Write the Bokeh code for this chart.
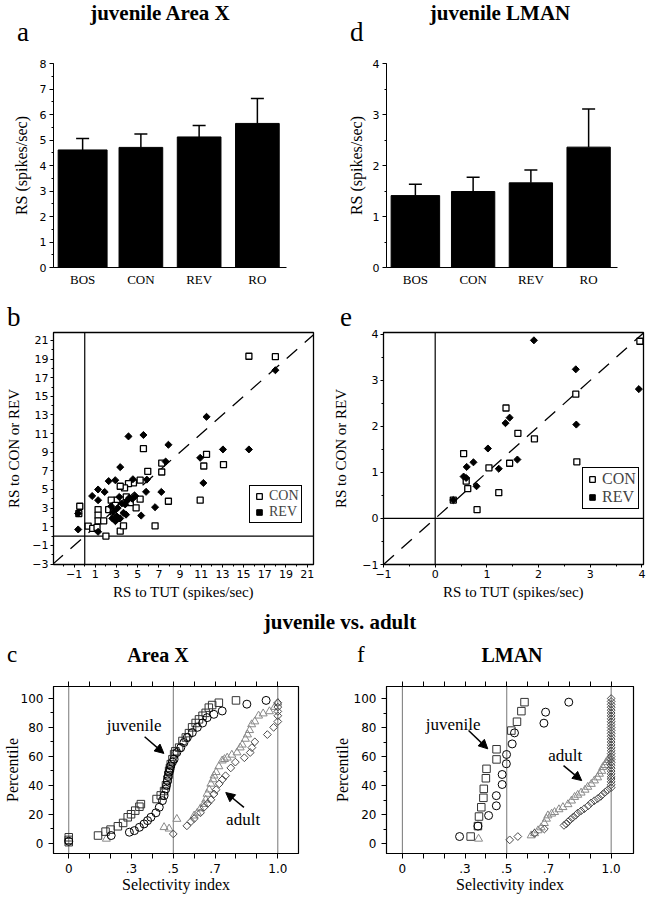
import math
from bokeh.plotting import figure
from bokeh.models import (Range1d, FactorRange, FixedTicker, SingleIntervalTicker, LinearAxis, Span, Slope,
                          Legend, LegendItem, Label, Arrow, NormalHead, Div, CustomJSTickFormatter,
                          ColumnDataSource)
from bokeh.layouts import column, row
from bokeh.embed import file_html
from bokeh.resources import INLINE

SERIF = "Liberation Serif"
SANS = "DejaVu Sans"

# ---------------- data ----------------
stimuli = ["BOS", "CON", "REV", "RO"]
areax_mean = [4.61, 4.71, 5.12, 5.65]
areax_upper = [5.06, 5.24, 5.57, 6.63]
lman_mean = [1.41, 1.49, 1.66, 2.36]
lman_upper = [1.63, 1.77, 1.91, 3.11]
bar_widths = [0.84, 0.75, 0.75, 0.75]

b_ticks = [-3, -1, 1, 3, 5, 7, 9, 11, 13, 15, 17, 19, 21]
b_minor = [-2, 0, 2, 4, 6, 8, 10, 12, 14, 16, 18, 20]
b_con_x = [15.5, 18.0, 5.54, 7.27, 7.27, 5.95, 11.5, 11.24, 13.1, 10.9, 7.9, 6.64, 5.23, 4.6, 4.13, 3.76,
           3.35, 5.23, 4.85, 3.92, 3.04, 2.5, 2.26, 1.26, 1.26, 1.26, 1.79, -0.47, -0.56, 0.32, 0.75, 1.16,
           2.0, 3.35, 3.66, 2.7, 3.1, 4.3, 2.9]
b_con_y = [19.3, 19.25, 9.38, 7.84, 6.88, 6.95, 8.77, 7.52, 7.67, 3.85, 3.74, 1.1, 6.0, 5.7, 5.63, 5.17,
           5.35, 3.96, 3.03, 4.2, 3.85, 3.85, 2.85, 2.85, 2.24, 1.64, 1.64, 3.2, 2.42, 1.07, 0.82, 0.93,
           0.0, 0.53, 1.1, 2.6, 1.9, 3.6, 3.3]
b_rev_x = [4.13, 5.54, 7.9, 7.64, 11.5, 10.9, 11.2, 13.05, 15.5, 18.0, 3.35, 2.26, 2.88, 4.55, 5.86, 1.26,
           1.88, 0.7, 1.26, 3.26, 5.79, 7.23, 6.64, 5.33, -0.62, -0.62, 1.26, 2.5, 2.7, 3.04, 3.35, 3.66,
           3.82, 4.2, 4.77, 3.5, 2.9, 3.1, 4.0, 4.5, 2.6, 3.9]
b_rev_y = [10.7, 10.85, 9.8, 8.0, 12.8, 8.4, 5.7, 9.3, 9.3, 17.8, 7.4, 5.9, 6.0, 6.1, 6.06, 5.0,
           4.74, 4.3, 3.85, 4.2, 4.75, 4.74, 3.1, 2.2, 2.42, 0.71, 0.46, 3.2, 2.6, 2.1, 1.9, 2.5,
           3.4, 4.1, 4.3, 3.5, 1.6, 3.0, 3.8, 4.0, 1.9, 2.3]

e_ticks = [-1, 0, 1, 2, 3, 4]
e_minor = [-0.5, 0.5, 1.5, 2.5, 3.5]
e_con_x = [3.96, 2.72, 2.74, 1.37, 1.6, 1.92, 0.55, 1.04, 1.44, 0.6, 0.63, 1.23, 0.81, 0.35]
e_con_y = [3.85, 2.7, 1.23, 2.4, 1.85, 1.73, 1.41, 1.1, 1.2, 0.81, 0.65, 0.56, 0.19, 0.4]
e_rev_x = [1.91, 2.72, 3.94, 2.73, 1.36, 1.44, 1.02, 0.74, 0.61, 0.55, 0.6, 0.8, 1.23, 1.59, 0.35]
e_rev_y = [3.87, 3.24, 2.81, 2.04, 2.07, 2.19, 1.52, 1.22, 1.12, 0.91, 0.88, 0.7, 1.08, 1.28, 0.4]

sel_major = [0, 0.3, 0.5, 0.7, 1.0]
sel_minor = [0.1, 0.2, 0.4, 0.6, 0.8, 0.9]
pct_major = [0, 20, 40, 60, 80, 100]
pct_minor = [10, 30, 50, 70, 90]
ref_lines = [0, 0.5, 1.0]

# Area X cumulative distributions
cx_sq_x = [0, 0, 0, 0.14, 0.176, 0.2, 0.235, 0.26, 0.282, 0.298, 0.318, 0.338, 0.345, 0.42, 0.44, 0.456,
           0.465, 0.472, 0.476, 0.48, 0.484, 0.488, 0.496, 0.504, 0.51, 0.528, 0.544, 0.56, 0.575, 0.59,
           0.607, 0.623, 0.64, 0.655, 0.67, 0.686, 0.718, 0.8]
cx_sq_y = [0.7, 2.3, 4.1, 5.3, 8, 9.4, 11.7, 14, 17.9, 20, 22.5, 25.2, 27, 30.5, 33, 36,
           40, 44, 47, 50, 52, 54.6, 58, 61.5, 63.5, 66, 70.6, 73, 76, 80,
           83, 85.5, 88, 90, 93.6, 95.4, 97, 98.6]
cx_ci_x = [0, 0.203, 0.29, 0.314, 0.338, 0.36, 0.377, 0.393, 0.417, 0.433, 0.448, 0.456, 0.464, 0.468,
           0.472, 0.476, 0.48, 0.484, 0.488, 0.496, 0.504, 0.517, 0.536, 0.551, 0.567, 0.591, 0.615, 0.64,
           0.662, 0.694, 0.734, 0.852, 0.944]
cx_ci_y = [1.4, 5.3, 7.6, 8.7, 11, 13.3, 15.6, 17.9, 21, 24.8, 29.4, 32.8, 37.4, 40,
           43, 46, 49, 51, 53.4, 56, 58, 62.6, 66, 69.5, 73, 76.4, 80, 83,
           86.7, 89, 91.3, 96, 98.6]
cx_tr_x = [0.18, 0.456, 0.48, 0.517, 0.6, 0.615, 0.63, 0.647, 0.655, 0.662, 0.672, 0.68, 0.69, 0.695,
           0.705, 0.718, 0.734, 0.745, 0.758, 0.78, 0.805, 0.82, 0.83, 0.845, 0.855, 0.865, 0.875, 0.89,
           0.908, 0.93, 0.96, 0.985, 1.0]
cx_tr_y = [3, 11, 10, 16.7, 19, 21, 24, 27, 30, 34, 37, 41, 44, 46.6,
           49, 53, 57, 58, 59, 61, 62.6, 66, 68, 72, 75, 78, 82, 84,
           88, 89.5, 91, 94, 97]
cx_di_x = [0.5, 0.565, 0.585, 0.6, 0.63, 0.647, 0.665, 0.68, 0.695, 0.705, 0.72, 0.735, 0.75, 0.775,
           0.797, 0.84, 0.868, 0.876, 0.89, 0.95, 0.98, 1.0, 1.0, 1.0, 1.0, 1.0]
cx_di_y = [6.4, 12, 15, 17, 21, 24.8, 27.5, 30, 34, 37, 41, 44, 46.6, 52,
           56, 59, 62.6, 66, 70, 75, 80, 84, 88, 91, 94, 97]

# LMAN cumulative distributions
fl_sq_x = [0.327, 0.362, 0.367, 0.378, 0.388, 0.39, 0.4, 0.403, 0.451, 0.451, 0.522, 0.549, 0.57, 0.585]
fl_sq_y = [4.8, 12, 18.6, 25, 31.5, 37.7, 45, 51.5, 58, 65, 77.9, 84, 91.3, 97.5]
fl_ci_x = [0.274, 0.362, 0.413, 0.45, 0.45, 0.478, 0.478, 0.498, 0.499, 0.526, 0.537, 0.678, 0.686, 0.797]
fl_ci_y = [4.8, 12, 19.3, 26, 33, 40.7, 47.6, 55, 61.4, 68.7, 76.3, 83, 90.6, 97.5]
fl_tr_x = [0.365, 0.617, 0.633, 0.65, 0.665, 0.68, 0.69, 0.697, 0.715, 0.729, 0.75, 0.769, 0.793, 0.81,
           0.825, 0.84, 0.856, 0.875, 0.888, 0.905, 0.92, 0.935, 0.944, 0.955, 0.96, 0.97, 0.976, 0.985,
           0.992]
fl_tr_y = [3.2, 5.5, 7, 9, 11, 14, 17, 19.3, 20.5, 21.6, 23.5, 25, 27, 29.5,
           32, 33.5, 35, 37, 39, 41, 43.4, 45.5, 48, 50, 52.6, 54, 56, 57.5,
           59]
fl_di_x = [0.514, 0.553, 0.633, 0.68, 0.774, 0.785, 0.793, 0.805, 0.817, 0.83, 0.84, 0.856, 0.872, 0.89,
           0.904, 0.92, 0.936, 0.95, 0.96, 0.972, 0.984,
           1.0, 1.0, 1.0, 1.0, 1.0, 1.0, 1.0, 1.0, 1.0, 1.0, 1.0, 1.0, 1.0, 1.0, 1.0, 1.0,
           1.0, 1.0, 1.0, 1.0, 1.0, 1.0, 1.0, 1.0, 1.0, 1.0, 1.0, 1.0, 1.0, 1.0, 1.0, 1.0]
fl_di_y = [2.5, 4.8, 7, 10, 12.5, 13.5, 15, 16.5, 18, 19.5, 21, 22.5, 24, 26,
           28, 29.5, 31, 32.5, 34, 35.5, 37,
           38.5, 40.5, 42.5, 44.5, 46, 48, 50, 52, 54, 56, 58, 60, 62, 64, 66, 68,
           70, 72, 74, 76, 78, 80, 82, 84, 86, 88, 90, 92, 94, 96, 98, 100]


# ---------------- helpers ----------------
def base_fig(xr, yr, w, h, bl, br, bt, bb):
    p = figure(x_range=xr, y_range=yr, width=w, height=h, output_backend="svg",
               toolbar_location=None, min_border_left=bl, min_border_right=br,
               min_border_top=bt, min_border_bottom=bb)
    p.grid.visible = False
    p.background_fill_color = "white"
    p.border_fill_color = "white"
    return p


def style_axis(ax, tick_size="11px", label_size="15px"):
    ax.axis_line_color = "black"
    ax.axis_line_width = 1
    ax.major_tick_line_color = "black"
    ax.minor_tick_line_color = "black"
    ax.major_tick_in = 0
    ax.minor_tick_in = 0
    ax.major_tick_out = 4
    ax.minor_tick_out = 2
    ax.major_label_text_font = SANS
    ax.major_label_text_font_size = tick_size
    ax.major_label_text_color = "black"
    ax.axis_label_text_font = SERIF
    ax.axis_label_text_font_style = "normal"
    ax.axis_label_text_font_size = label_size
    ax.axis_label_text_color = "black"


def header(width, height, items):
    """A strip of serif texts placed by baseline (panel letters and headings)."""
    spans = []
    for (txt, x, base, size, bold, centered) in items:
        top = base - ((size - 1.107 * size) / 2 + 0.891 * size)
        if centered:
            pos = "left:%.1fpx;width:400px;text-align:center;" % (x - 200)
        else:
            pos = "left:%.1fpx;" % x
        spans.append(
            '<span style="position:absolute;%stop:%.1fpx;font-family:\'Liberation Serif\';'
            'font-size:%dpx;line-height:%dpx;font-weight:%s;color:black;white-space:nowrap;">%s</span>'
            % (pos, top, size, size, "bold" if bold else "normal", txt))
    html = ('<div style="position:relative;width:%dpx;height:%dpx;">' % (width, height)
            + "".join(spans) + "</div>")
    return Div(text=html, width=width, height=height, margin=0)


def bar_panel(means, uppers, ymax, w, h, bl, br, bt, bb, lab_standoff):
    p = base_fig(FactorRange(*stimuli), Range1d(0, ymax), w, h, bl, br, bt, bb)
    p.outline_line_color = None
    src = ColumnDataSource(dict(x=stimuli, top=means, up=uppers, w=bar_widths))
    p.vbar(x="x", top="top", width="w", source=src, fill_color="black", line_color="black")
    p.segment(x0="x", y0="top", x1="x", y1="up", source=src, line_color="black", line_width=1.5)
    p.scatter(x="x", y="up", source=src, marker="dash", size=13, line_color="black", line_width=1.5)
    style_axis(p.yaxis[0], label_size="16px")
    p.yaxis.ticker = SingleIntervalTicker(interval=1, num_minor_ticks=2)
    p.yaxis.axis_label = "RS (spikes/sec)"
    p.yaxis.axis_label_standoff = lab_standoff
    p.yaxis.major_label_standoff = 3
    style_axis(p.xaxis[0])
    p.xaxis.major_tick_line_color = None
    p.xaxis.major_tick_out = 0
    p.xaxis.major_label_text_font = SERIF
    p.xaxis.major_label_text_font_size = "13px"
    p.xaxis.major_label_standoff = 4
    return p


def scatter_panel(xr, yr, ticks, minor, cx, cy, rx, ry, w, h, bl, br, bt, bb,
                  leg_loc, leg_font, ylab_standoff, dash):
    p = base_fig(Range1d(*xr), Range1d(*yr), w, h, bl, br, bt, bb)
    p.outline_line_color = "black"
    p.outline_line_width = 1.3
    p.outline_line_alpha = 1
    for ax in (p.xaxis[0], p.yaxis[0]):
        style_axis(ax)
        ax.ticker = FixedTicker(ticks=ticks, minor_ticks=minor)
        ax.major_tick_out = 3
        ax.minor_tick_out = 2
        ax.major_label_standoff = 2
    p.xaxis.axis_label = "RS to TUT (spikes/sec)"
    p.xaxis.axis_label_standoff = 3
    p.yaxis.axis_label = "RS to CON or REV"
    p.yaxis.axis_label_standoff = ylab_standoff
    p.add_layout(Span(location=0, dimension="height", line_color="black", line_width=1.2, level="underlay"))
    p.add_layout(Span(location=0, dimension="width", line_color="black", line_width=1.2, level="underlay"))
    p.add_layout(Slope(gradient=1, y_intercept=0, line_color="black", line_width=1.3,
                       line_dash=dash, level="underlay"))
    r_con = p.scatter(cx, cy, marker="square", size=6, fill_color="white", line_color="black",
                      line_width=1.3)
    r_rev = p.scatter(rx, ry, marker="square", angle=math.pi / 4, size=5, fill_color="black",
                      line_color="black")
    leg = Legend(items=[LegendItem(label="CON", renderers=[r_con]),
                        LegendItem(label="REV", renderers=[r_rev])],
                 location=leg_loc, border_line_color="black", border_line_width=1.5,
                 border_line_alpha=1, label_text_font=SERIF, label_text_font_size=leg_font,
                 glyph_width=14, glyph_height=14, label_height=13, padding=2, spacing=0,
                 margin=0, label_standoff=3, background_fill_color="white",
                 background_fill_alpha=1)
    p.add_layout(leg)
    return p


def cum_panel(xr, yr, series, w, h, bl, br, bt, bb, ylab_standoff, notes):
    p = base_fig(Range1d(*xr), Range1d(*yr), w, h, bl, br, bt, bb)
    p.outline_line_color = "black"
    p.outline_line_width = 1.2
    p.outline_line_alpha = 1
    fmt = CustomJSTickFormatter(
        code="if (tick == 0) { return '0'; } if (tick >= 1) { return tick.toFixed(1); } "
             "return tick.toFixed(1).slice(1);")
    style_axis(p.xaxis[0], tick_size="12px", label_size="16px")
    p.xaxis.ticker = FixedTicker(ticks=sel_major, minor_ticks=sel_minor)
    p.xaxis.formatter = fmt
    p.xaxis.major_tick_out = 5
    p.xaxis.minor_tick_out = 5
    p.xaxis.major_label_standoff = 5
    p.xaxis.axis_label = "Selectivity index"
    p.xaxis.axis_label_standoff = 0
    top = LinearAxis(ticker=FixedTicker(ticks=sel_major, minor_ticks=sel_minor))
    style_axis(top, tick_size="1px")
    top.major_tick_out = 5
    top.minor_tick_out = 5
    top.major_label_text_color = None
    top.major_label_standoff = 0
    p.add_layout(top, "above")
    style_axis(p.yaxis[0], tick_size="12px", label_size="16px")
    p.yaxis.ticker = FixedTicker(ticks=pct_major, minor_ticks=pct_minor)
    p.yaxis.major_tick_out = 5
    p.yaxis.minor_tick_out = 3
    p.yaxis.major_label_standoff = 5
    p.yaxis.axis_label = "Percentile"
    p.yaxis.axis_label_standoff = ylab_standoff
    for v in ref_lines:
        p.add_layout(Span(location=v, dimension="height", line_color="#777777", line_width=1,
                          level="underlay"))
    (sqx, sqy), (cix, ciy), (trx, try_), (dix, diy) = series
    p.scatter(trx, try_, marker="triangle", size=8, fill_color=None, line_color="#8a8a8a", line_width=1)
    p.scatter(dix, diy, marker="square", angle=math.pi / 4, size=5.5, fill_color=None,
              line_color="#4a4a4a", line_width=1)
    p.scatter(sqx, sqy, marker="square", size=7.5, fill_color=None, line_color="#333333", line_width=1)
    p.scatter(cix, ciy, marker="circle", size=8, fill_color=None, line_color="black", line_width=1)
    for (txt, tx, ty, ax0, ay0, ax1, ay1) in notes:
        p.add_layout(Label(x=tx, y=ty, text=txt, text_font=SERIF, text_font_size="17px",
                           text_align="center", text_baseline="middle", text_color="black"))
        p.add_layout(Arrow(end=NormalHead(size=9, fill_color="black", line_color="black"),
                           x_start=ax0, y_start=ay0, x_end=ax1, y_end=ay1,
                           line_color="black", line_width=1.5))
    return p


# ---------------- panels ----------------
head1 = header(658, 52, [("juvenile Area X", 160, 21, 21, True, True),
                         ("a", 17, 42, 27, False, False),
                         ("juvenile LMAN", 500, 21, 21, True, True),
                         ("d", 350, 42, 27, False, False)])

fa = bar_panel(areax_mean, areax_upper, 8, 330, 238, 53, 44, 8, 23, 7)
fd = bar_panel(lman_mean, lman_upper, 4, 328, 238, 56, 41, 11, 22, 5)

head2 = header(658, 38, [("b", 7, 37, 27, False, False),
                         ("e", 340, 37, 27, False, False)])

fb = scatter_panel((-2.95, 21.6), (-3.05, 21.85), b_ticks, b_minor, b_con_x, b_con_y, b_rev_x, b_rev_y,
                   330, 275, 53, 17, 4, 39, (196, 41), "14px", 7, "14 10")
fe = scatter_panel((-1.0, 4.03), (-1.0, 4.04), e_ticks, e_minor, e_con_x, e_con_y, e_rev_x, e_rev_y,
                   328, 275, 53, 15, 3, 39, (199, 55), "16px", 10, "14 10")

head3 = header(658, 69, [("juvenile vs. adult", 340, 27, 21, True, True),
                         ("c", 7, 59, 23, False, False),
                         ("Area X", 158, 59, 20, True, True),
                         ("f", 357, 59, 23, False, False),
                         ("LMAN", 512, 59, 20, True, True)])

fc = cum_panel((-0.073, 1.099), (-7.1, 108.2),
               [(cx_sq_x, cx_sq_y), (cx_ci_x, cx_ci_y), (cx_tr_x, cx_tr_y), (cx_di_x, cx_di_y)],
               330, 226, 52, 32, 13, 45, -3,
               [("juvenile", 0.313, 81, 0.363, 73.5, 0.455, 62),
                ("adult", 0.834, 16.3, 0.838, 24.7, 0.751, 35)])

ff = cum_panel((-0.076, 1.107), (-6.9, 108.3),
               [(fl_sq_x, fl_sq_y), (fl_ci_x, fl_ci_y), (fl_tr_x, fl_tr_y), (fl_di_x, fl_di_y)],
               328, 226, 55, 25, 14, 45, 0,
               [("juvenile", 0.243, 82, 0.317, 78, 0.409, 65.3),
                ("adult", 0.78, 60.7, 0.772, 53.7, 0.859, 43.4)])

layout = column(head1, row(fa, fd), head2, row(fb, fe), head3, row(fc, ff))

open("out.html", "w").write(file_html(layout, INLINE))
